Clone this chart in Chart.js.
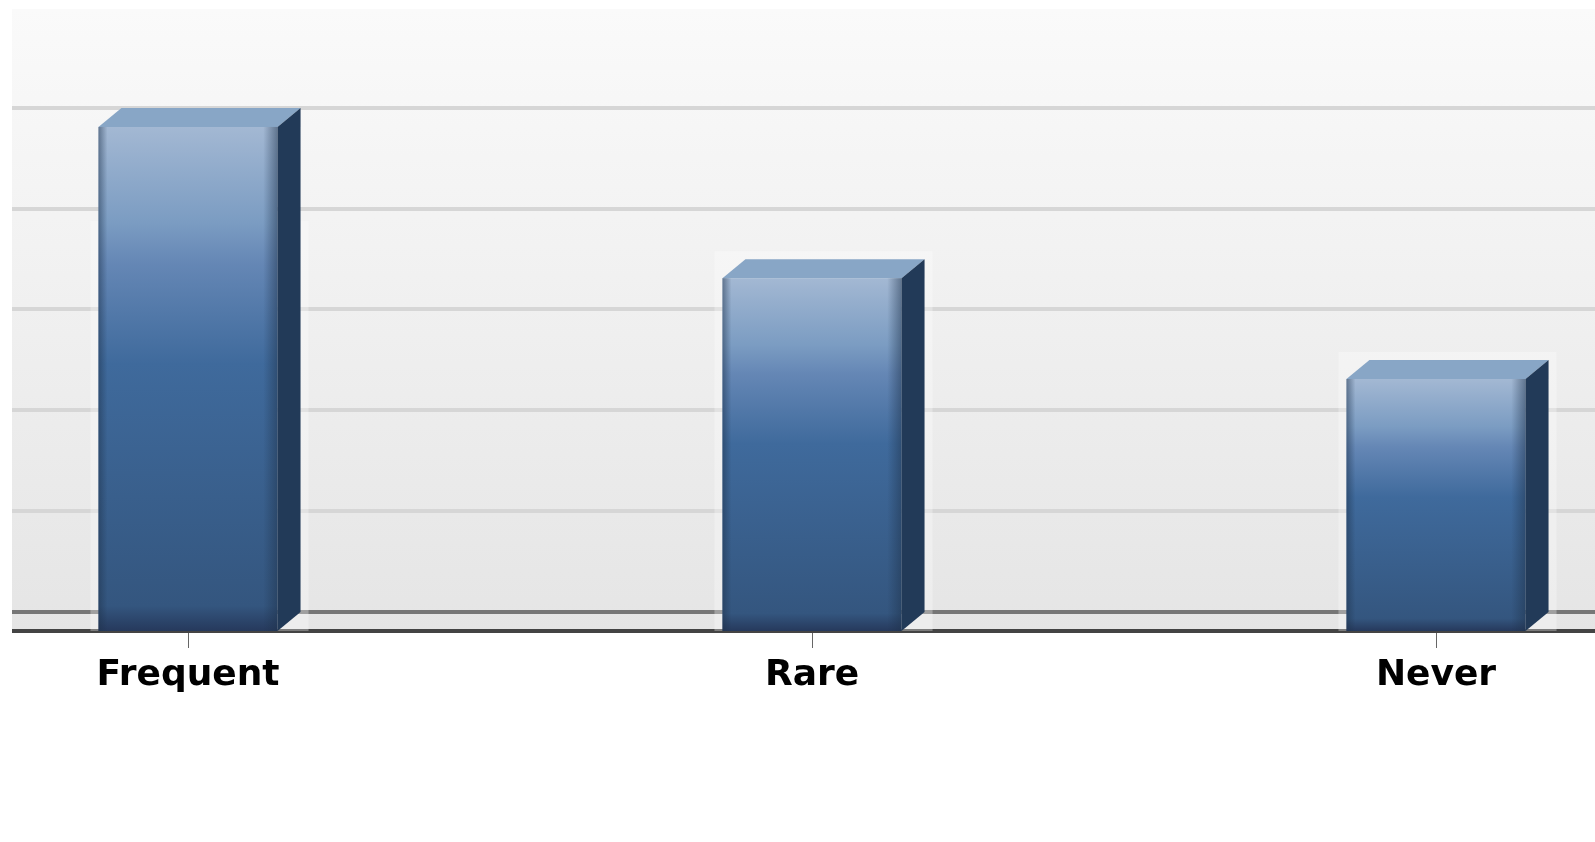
<!DOCTYPE html>
<html>
<head>
<meta charset="utf-8">
<title>Frequency chart</title>
<script src="https://cdn.jsdelivr.net/npm/chart.js@4"></script>
<style>
  html, body { margin: 0; padding: 0; background: #fff; overflow: hidden; }
  /* the source picture is a crop, so the plot runs off both sides */
  #crop { position: absolute; left: 12px; top: 0; width: 1583px; height: 842px; overflow: hidden; }
  #chart { position: absolute; left: -136px; top: 0; }
</style>
</head>
<body>
<div id="crop"><canvas id="chart" width="1872" height="842"></canvas></div>
<script>
const categories = ['Frequent', 'Rare', 'Never'];
const values = [5, 3.5, 2.5];
const wallTicks = [0, 1, 2, 3, 4, 5];

const DEPTH_X = 23;
const DEPTH_Y = 19;
const HALO = 8;
const HALO_TOP_LIMIT = 221; // the pale fringe in the source stops at this row

// front face fades from pale blue at the top of each bar to navy at the base
function frontGradient(context) {
  const chart = context.chart;
  if (!chart.scales.y || context.raw === undefined) return '#3f6a9c';
  const top = chart.scales.y.getPixelForValue(context.raw);
  const base = chart.scales.y.getPixelForValue(0);
  if (!Number.isFinite(top) || !Number.isFinite(base)) return '#3f6a9c'; // not laid out yet
  const g = chart.ctx.createLinearGradient(0, top, 0, base);
  g.addColorStop(0, '#a3b8d3');
  g.addColorStop(0.19, '#7b9cc2');
  g.addColorStop(0.27, '#6587b5');
  g.addColorStop(0.47, '#3f6a9c');
  g.addColorStop(0.95, '#34567f');
  g.addColorStop(1, '#26395c');
  return g;
}

const wallPlugin = {
  id: 'wall',
  beforeDraw(chart) {
    const { ctx, chartArea: a } = chart;
    const g = ctx.createLinearGradient(0, a.top, 0, a.bottom);
    g.addColorStop(0, '#fafafa');
    g.addColorStop(1, '#e5e5e5');
    ctx.fillStyle = g;
    ctx.fillRect(a.left, a.top, a.right - a.left, a.bottom - a.top);
  }
};

const boxPlugin = {
  id: 'box',
  beforeDatasetsDraw(chart) {
    // pale compression fringe round each box
    const ctx = chart.ctx;
    ctx.fillStyle = 'rgba(255,255,255,0.3)';
    chart.getDatasetMeta(0).data.forEach(bar => {
      const left = bar.x - bar.width / 2 - HALO;
      const right = bar.x + bar.width / 2 + DEPTH_X + HALO;
      const top = Math.max(bar.y - DEPTH_Y - HALO, HALO_TOP_LIMIT);
      ctx.fillRect(left, top, right - left, bar.base - top);
    });
  },
  afterDatasetsDraw(chart) {
    const ctx = chart.ctx;
    chart.getDatasetMeta(0).data.forEach(bar => {
      const left = bar.x - bar.width / 2;
      const right = bar.x + bar.width / 2;
      const top = bar.y;
      const base = bar.base;

      // top cap
      ctx.fillStyle = '#88a6c6';
      ctx.beginPath();
      ctx.moveTo(left, top);
      ctx.lineTo(left + DEPTH_X, top - DEPTH_Y);
      ctx.lineTo(right + DEPTH_X, top - DEPTH_Y);
      ctx.lineTo(right, top);
      ctx.closePath();
      ctx.fill();

      // side face
      ctx.fillStyle = '#223a58';
      ctx.beginPath();
      ctx.moveTo(right, top);
      ctx.lineTo(right + DEPTH_X, top - DEPTH_Y);
      ctx.lineTo(right + DEPTH_X, base - DEPTH_Y);
      ctx.lineTo(right, base);
      ctx.closePath();
      ctx.fill();

      // darker rounded edges on the front face
      const edge = ctx.createLinearGradient(left, 0, right, 0);
      edge.addColorStop(0, 'rgba(30,50,75,0.5)');
      edge.addColorStop(0.05, 'rgba(30,50,75,0)');
      edge.addColorStop(0.92, 'rgba(30,50,75,0)');
      edge.addColorStop(1, 'rgba(30,50,75,0.5)');
      ctx.fillStyle = edge;
      ctx.fillRect(left, top, right - left, base - top);
    });
  }
};

new Chart(document.getElementById('chart'), {
  type: 'bar',
  data: {
    labels: categories,
    datasets: [{
      data: values,
      backgroundColor: frontGradient,
      borderWidth: 0,
      barPercentage: 1,
      categoryPercentage: 0.287
    }]
  },
  plugins: [wallPlugin, boxPlugin],
  options: {
    responsive: false,
    animation: false,
    layout: { padding: { top: 9 } },
    plugins: { legend: { display: false }, tooltip: { enabled: false } },
    scales: {
      x: {
        offset: true,
        afterFit(scale) { scale.height = 211; },
        border: { color: '#444444', width: 4 },
        grid: { offset: false, drawOnChartArea: false, tickLength: 17, tickColor: '#666666', tickWidth: 1 },
        ticks: {
          color: '#000000',
          padding: 6,
          maxRotation: 0,
          font: { family: '"DejaVu Sans"', size: 36, weight: 'bold' }
        }
      },
      // front plane of the boxes, the bars sit on this one
      y: {
        min: 0,
        max: 6.17,
        afterFit(scale) { scale.width = 0; },
        border: { display: false },
        grid: { display: false },
        ticks: { display: false }
      },
      // back wall, pushed up by the box depth
      wall: {
        position: 'left',
        min: -0.19,
        max: 5.98,
        afterFit(scale) { scale.width = 0; },
        afterBuildTicks(scale) { scale.ticks = wallTicks.map(value => ({ value })); },
        border: { display: false },
        grid: {
          drawTicks: false,
          lineWidth: 4,
          color: context => context.tick && context.tick.value === 0 ? '#777777' : '#d6d6d6'
        },
        ticks: { display: false }
      }
    }
  }
});
</script>
</body>
</html>
